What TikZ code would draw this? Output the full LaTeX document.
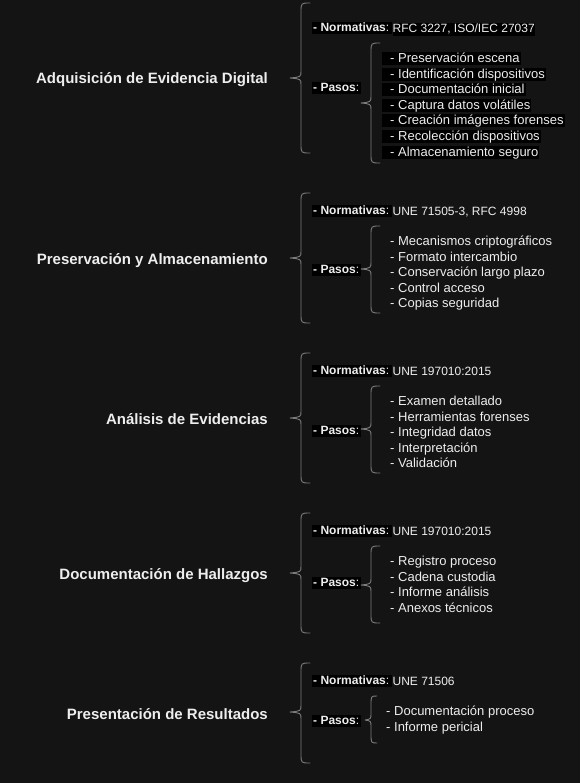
\documentclass[tikz,border=0pt]{standalone}
\usepackage{fontspec}
\setmainfont{Liberation Sans}
\definecolor{bg}{HTML}{141414}
\definecolor{fg}{HTML}{EEEEEE}
\definecolor{br}{HTML}{7C7C7C}
\newcommand\cbr[6]{% tipx, vertx, endx, top, mid, bottom
  \draw[brace] (#3,#4) .. controls (#2,#4) .. (#2,{#4+9}) -- (#2,{#5-7})
    .. controls (#2,{#5-1}) .. (#1,#5) .. controls (#2,{#5+1}) .. (#2,{#5+7})
    -- (#2,{#6-9}) .. controls (#2,#6) .. (#3,#6);}
\newcommand\normlbl{{\bfseries - Normativas}:\kern2pt\relax}
\newcommand\pasolbl{{\bfseries - Pasos}:\kern0.5pt\relax}
\begin{document}
\begin{tikzpicture}[x=1pt,y=-1pt,
  title/.style={anchor=east, inner sep=0pt, text height=12pt, text depth=2pt, text=fg,
    yshift=-1.5pt, font=\fontsize{15}{18}\selectfont\bfseries},
  txt/.style={anchor=west, inner xsep=1pt, inner ysep=0pt, text height=10.5pt, text depth=3pt,
    yshift=-1.5pt, text=fg, font=\fontsize{13}{15.6}\selectfont},
  lbl/.style={anchor=west, inner xsep=1pt, inner ysep=0pt, text height=9.5pt, text depth=3pt,
    yshift=-1.2pt, text=fg, font=\fontsize{12}{14.4}\selectfont},
  hl/.style={txt, fill=black},
  hlbl/.style={lbl, fill=black},
  val/.style={lbl, inner xsep=0pt, yshift=0pt},
  brace/.style={draw=br, line width=0.9pt, line join=round, line cap=round}]
\fill[bg] (0,0) rectangle (580,783);
\useasboundingbox (0,0) rectangle (580,783);

% ---------- Section 1
\node[title] (t1) at (268,77) {Adquisición de Evidencia Digital};
\cbr{290}{301}{310}{3}{78}{153}
\node[hlbl] (n1) at (312,27) {\normlbl};
\node[val, fill=black, anchor=west] (v1) at (n1.east) {RFC 3227, ISO/IEC 27037};
\node[hlbl] (p1) at (312,87) {\pasolbl};
\cbr{361}{371}{380}{43}{103}{163}
\node[hl] (s1a) at (382,57)  {\hspace{7pt}- Preservación escena};
\node[hl] (s1b) at (382,73)  {\hspace{7pt}- Identificación dispositivos};
\node[hl] (s1c) at (382,88)  {\hspace{7pt}- Documentación inicial};
\node[hl] (s1d) at (382,104) {\hspace{7pt}- Captura datos volátiles};
\node[hl] (s1e) at (382,119) {\hspace{7pt}- Creación imágenes forenses};
\node[hl] (s1f) at (382,135) {\hspace{7pt}- Recolección dispositivos};
\node[hl] (s1g) at (382,151) {\hspace{7pt}- Almacenamiento seguro};

% ---------- Section 2
\node[title] (t2) at (268,258) {Preservación y Almacenamiento};
\cbr{290}{301}{310}{193}{258}{323}
\node[hlbl] (n2) at (312,210) {\normlbl};
\node[val] (v2) at (n2.east) {UNE 71505-3, RFC 4998};
\node[hlbl] (p2) at (312,269) {\pasolbl};
\cbr{361}{371}{380}{226}{269}{313}
\node[txt] (s2a) at (382,240) {\hspace{7pt}- Mecanismos criptográficos};
\node[txt] (s2b) at (382,256) {\hspace{7pt}- Formato intercambio};
\node[txt] (s2c) at (382,271) {\hspace{7pt}- Conservación largo plazo};
\node[txt] (s2d) at (382,287) {\hspace{7pt}- Control acceso};
\node[txt] (s2e) at (382,302) {\hspace{7pt}- Copias seguridad};

% ---------- Section 3
\node[title] (t3) at (268,418) {Análisis de Evidencias};
\cbr{290}{301}{310}{353}{418}{483}
\node[hlbl] (n3) at (312,370) {\normlbl};
\node[val] (v3) at (n3.east) {UNE 197010:2015};
\node[hlbl] (p3) at (312,430) {\pasolbl};
\cbr{361}{371}{380}{386}{429}{473}
\node[txt] (s3a) at (382,400) {\hspace{7pt}- Examen detallado};
\node[txt] (s3b) at (382,416) {\hspace{7pt}- Herramientas forenses};
\node[txt] (s3c) at (382,431) {\hspace{7pt}- Integridad datos};
\node[txt] (s3d) at (382,447) {\hspace{7pt}- Interpretación};
\node[txt] (s3e) at (382,462) {\hspace{7pt}- Validación};

% ---------- Section 4
\node[title] (t4) at (268,573) {Documentación de Hallazgos};
\cbr{290}{301}{310}{513}{573}{633}
\node[hlbl] (n4) at (312,530) {\normlbl};
\node[val] (v4) at (n4.east) {UNE 197010:2015};
\node[hlbl] (p4) at (312,582) {\pasolbl};
\cbr{361}{371}{380}{546}{585}{623}
\node[txt] (s4a) at (382,560) {\hspace{7pt}- Registro proceso};
\node[txt] (s4b) at (382,576) {\hspace{7pt}- Cadena custodia};
\node[txt] (s4c) at (382,591) {\hspace{7pt}- Informe análisis};
\node[txt] (s4d) at (382,607) {\hspace{7pt}- Anexos técnicos};

% ---------- Section 5
\node[title] (t5) at (268,713) {Presentación de Resultados};
\cbr{290}{301}{310}{663}{712}{763}
\node[hlbl] (n5) at (312,680) {\normlbl};
\node[val] (v5) at (n5.east) {UNE 71506};
\node[hlbl] (p5) at (312,720) {\pasolbl};
\cbr{365}{371}{377}{696}{720}{743}
\node[txt] (s5a) at (378,710) {\hspace{7pt}- Documentación proceso};
\node[txt] (s5b) at (378,726) {\hspace{7pt}- Informe pericial};
\end{tikzpicture}
\end{document}
